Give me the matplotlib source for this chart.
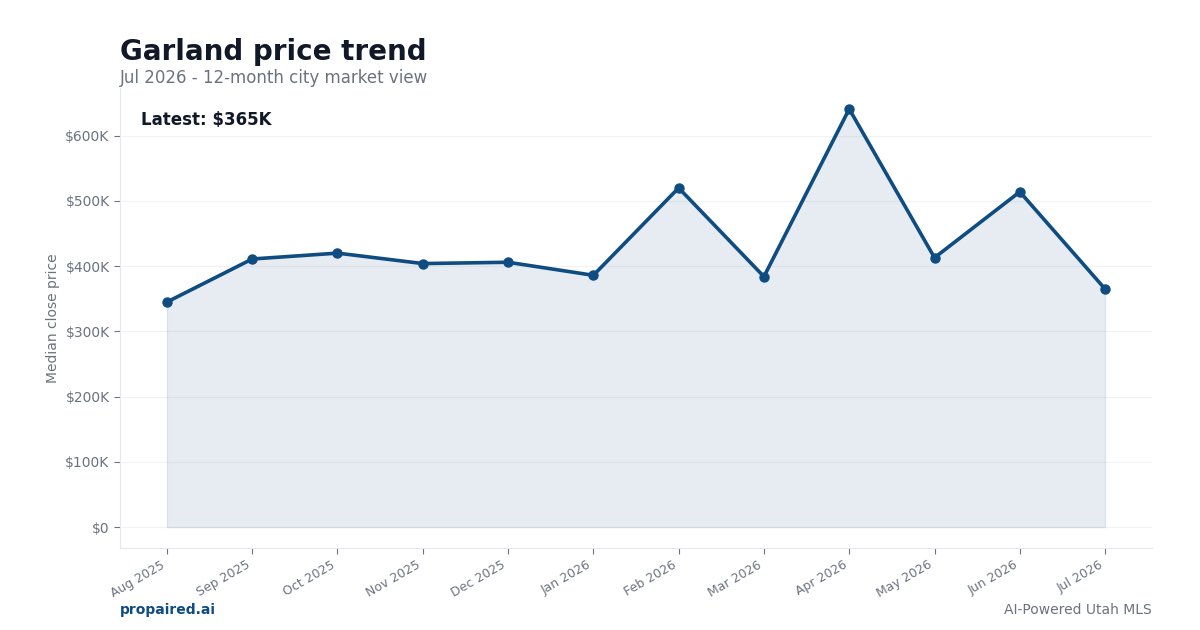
"""Garland price trend — 12-month median close price line chart."""

import numpy as np
import matplotlib
matplotlib.use("Agg")
import matplotlib.pyplot as plt
from matplotlib.ticker import FuncFormatter

months = ["Aug 2025", "Sep 2025", "Oct 2025", "Nov 2025", "Dec 2025", "Jan 2026",
          "Feb 2026", "Mar 2026", "Apr 2026", "May 2026", "Jun 2026", "Jul 2026"]
prices = [345000, 411000, 420000, 404000, 406000, 386000,
          520000, 384000, 641000, 413000, 514000, 365000]

LINE = "#0f4c81"
DARK = "#111827"
MUTED = "#6b7280"
SPINE = "#e5e7eb"

fig = plt.figure(figsize=(12, 6.3), dpi=100)
ax = fig.add_axes([0.1, 0.1302, 0.86, 0.73])

x = np.arange(len(months))
ax.grid(axis="y", color="#f1f2f4", linewidth=0.8, zorder=0)
ax.fill_between(x, prices, 0, color=LINE, alpha=0.1, zorder=1)
ax.plot(x, prices, color=LINE, linewidth=2.6, marker="o", markersize=6.5, zorder=3)

ax.set_xticks(x)
ax.set_xticklabels(months, rotation=30, ha="right")
ax.yaxis.set_major_formatter(FuncFormatter(lambda v, _: "$0" if v == 0 else f"${v/1000:.0f}K"))
ax.set_yticks(np.arange(0, 600001, 100000))
ax.tick_params(colors=MUTED, labelsize=10, length=4, width=0.8)
ax.tick_params(axis="x", labelsize=9)
ax.set_ylabel("Median close price", color=MUTED, fontsize=10)
ax.set_axisbelow(True)

for side in ["top", "right"]:
    ax.spines[side].set_visible(False)
for side in ["left", "bottom"]:
    ax.spines[side].set_color(SPINE)

ax.text(0.02, 0.93, f"Latest: ${prices[-1]/1000:.0f}K", transform=ax.transAxes,
        fontsize=12, fontweight="bold", color=DARK, va="center")

fig.text(0.1, 0.918, "Garland price trend", fontsize=20, fontweight="bold", color=DARK, va="center")
fig.text(0.1, 0.876, "Jul 2026 - 12-month city market view", fontsize=12, color=MUTED, va="center")
fig.text(0.1, 0.032, "propaired.ai", fontsize=10, fontweight="bold", color=LINE, va="center")
fig.text(0.96, 0.032, "AI-Powered Utah MLS", fontsize=10, color=MUTED, va="center", ha="right")

fig.savefig("out.png", dpi=100)
